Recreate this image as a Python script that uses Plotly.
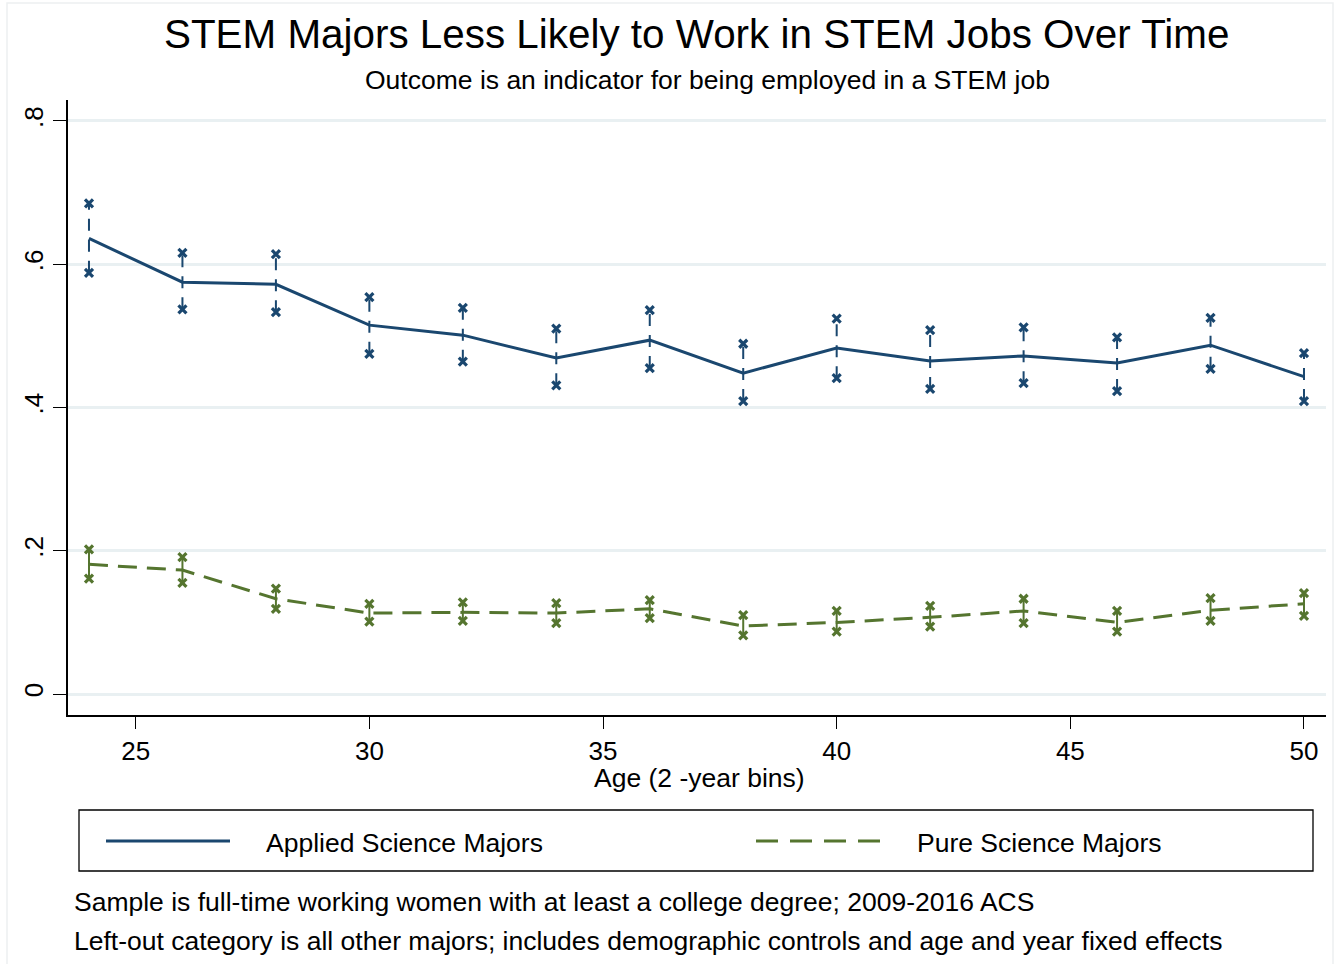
import plotly.graph_objects as go

# Age bins (2-year) and estimated STEM-employment coefficients with 95% CIs
ages = [24, 26, 28, 30, 32, 34, 36, 38, 40, 42, 44, 46, 48, 50]

applied_est = [0.636, 0.575, 0.572, 0.515, 0.501, 0.469, 0.494, 0.448, 0.483, 0.465, 0.472, 0.462, 0.487, 0.443]
applied_hi = [0.685, 0.616, 0.614, 0.554, 0.539, 0.510, 0.536, 0.489, 0.524, 0.508, 0.512, 0.498, 0.525, 0.476]
applied_lo = [0.588, 0.537, 0.533, 0.475, 0.464, 0.431, 0.455, 0.409, 0.441, 0.426, 0.434, 0.423, 0.454, 0.409]

pure_est = [0.181, 0.173, 0.133, 0.113, 0.114, 0.113, 0.119, 0.095, 0.100, 0.107, 0.116, 0.100, 0.117, 0.126]
pure_hi = [0.202, 0.191, 0.147, 0.126, 0.128, 0.127, 0.131, 0.110, 0.116, 0.123, 0.133, 0.116, 0.134, 0.141]
pure_lo = [0.161, 0.155, 0.119, 0.101, 0.102, 0.099, 0.106, 0.082, 0.087, 0.094, 0.099, 0.087, 0.102, 0.109]

x_ticks = [25, 30, 35, 40, 45, 50]
y_ticks = [0, 0.2, 0.4, 0.6, 0.8]
y_tick_text = ["0", ".2", ".4", ".6", ".8"]

series_names = ["Applied Science Majors", "Pure Science Majors"]
NAVY = "#1a476f"
GREEN = "#55752f"
FONT = "Liberation Sans, Arial, sans-serif"
TXT = 26.5

W, H = 1341, 964
L, R, T, B = 68, 15, 100, 249


def px(xp):
    return (xp - L) / (W - L - R)


def py(yp):
    return (H - B - yp) / (H - T - B)


def ci_segments(xs, lo, hi):
    xx, yy = [], []
    for a, l, h in zip(xs, lo, hi):
        xx += [a, a, None]
        yy += [l, h, None]
    return xx, yy


fig = go.Figure()

for est, lo, hi, color, ci_dash, main_dash, name in [
    (applied_est, applied_lo, applied_hi, NAVY, "12px,9px", "solid", series_names[0]),
    (pure_est, pure_lo, pure_hi, GREEN, "solid", "19px,10px", series_names[1]),
]:
    cx, cy = ci_segments(ages, lo, hi)
    fig.add_trace(go.Scatter(x=cx, y=cy, mode="lines", showlegend=False,
                             line=dict(color=color, width=2, dash=ci_dash),
                             hoverinfo="skip"))
    fig.add_trace(go.Scatter(x=ages + ages, y=hi + lo, mode="markers", showlegend=False,
                             marker=dict(symbol="x-thin", size=8,
                                         line=dict(color=color, width=3.2)),
                             hoverinfo="skip"))
    fig.add_trace(go.Scatter(x=ages, y=est, mode="lines", name=name, showlegend=False,
                             line=dict(color=color, width=3, dash=main_dash)))

shapes = [
    # faint outer frame of the graph region
    dict(type="rect", xref="paper", yref="paper", x0=px(7), x1=px(1333), y0=py(975), y1=py(3),
         line=dict(color="#edf0f1", width=1.5), layer="below"),
    # legend box
    dict(type="rect", xref="paper", yref="paper", x0=px(79), x1=px(1313), y0=py(871), y1=py(810),
         line=dict(color="black", width=1.3)),
    dict(type="line", xref="paper", yref="paper", x0=px(106), x1=px(230), y0=py(841), y1=py(841),
         line=dict(color=NAVY, width=3)),
    dict(type="line", xref="paper", yref="paper", x0=px(756), x1=px(880), y0=py(841), y1=py(841),
         line=dict(color=GREEN, width=3, dash="22px,12px")),
]

annotations = [
    dict(text="STEM Majors Less Likely to Work in STEM Jobs Over Time", x=px(696), y=py(34),
         font=dict(size=40.4, color="black", family=FONT)),
    dict(text="Outcome is an indicator for being employed in a STEM job", x=px(707), y=py(80),
         font=dict(size=TXT, color="black", family=FONT)),
    dict(text="Age (2 -year bins)", x=px(700), y=py(778),
         font=dict(size=TXT, color="black", family=FONT)),
    dict(text=series_names[0], x=px(265), y=py(843), xanchor="left",
         font=dict(size=TXT, color="black", family=FONT)),
    dict(text=series_names[1], x=px(916), y=py(843), xanchor="left",
         font=dict(size=TXT, color="black", family=FONT)),
    dict(text="Sample is full-time working women with at least a college degree; 2009-2016 ACS",
         x=px(73), y=py(902), xanchor="left", font=dict(size=TXT, color="black", family=FONT)),
    dict(text="Left-out category is all other majors; includes demographic controls and age and year fixed effects",
         x=px(73), y=py(941), xanchor="left", font=dict(size=TXT, color="black", family=FONT)),
]
for a in annotations:
    a.update(xref="paper", yref="paper", showarrow=False, yanchor="middle",
             xanchor=a.get("xanchor", "center"), borderpad=0)

fig.update_layout(
    width=W, height=H,
    margin=dict(l=L, r=R, t=T, b=B, autoexpand=False),
    paper_bgcolor="white", plot_bgcolor="white",
    font=dict(family=FONT, size=TXT, color="black"),
    showlegend=False,
    shapes=shapes,
    annotations=annotations,
    xaxis=dict(range=[23.551, 50.471], tickvals=x_ticks, ticks="outside", ticklen=12,
               tickwidth=1.3, tickcolor="black", showline=True, linecolor="black", linewidth=1.5,
               showgrid=False, zeroline=False, tickfont=dict(size=26, family=FONT)),
    yaxis=dict(range=[-0.0293, 0.8293], tickvals=y_ticks, ticktext=y_tick_text, tickangle=-90,
               ticks="outside", ticklen=13, tickwidth=1.3, tickcolor="black",
               showline=True, linecolor="black", linewidth=1.5,
               showgrid=True, gridcolor="#e9f0f2", gridwidth=2.5, zeroline=False,
               tickfont=dict(size=26, family=FONT)),
)

fig.write_html("out.html")
